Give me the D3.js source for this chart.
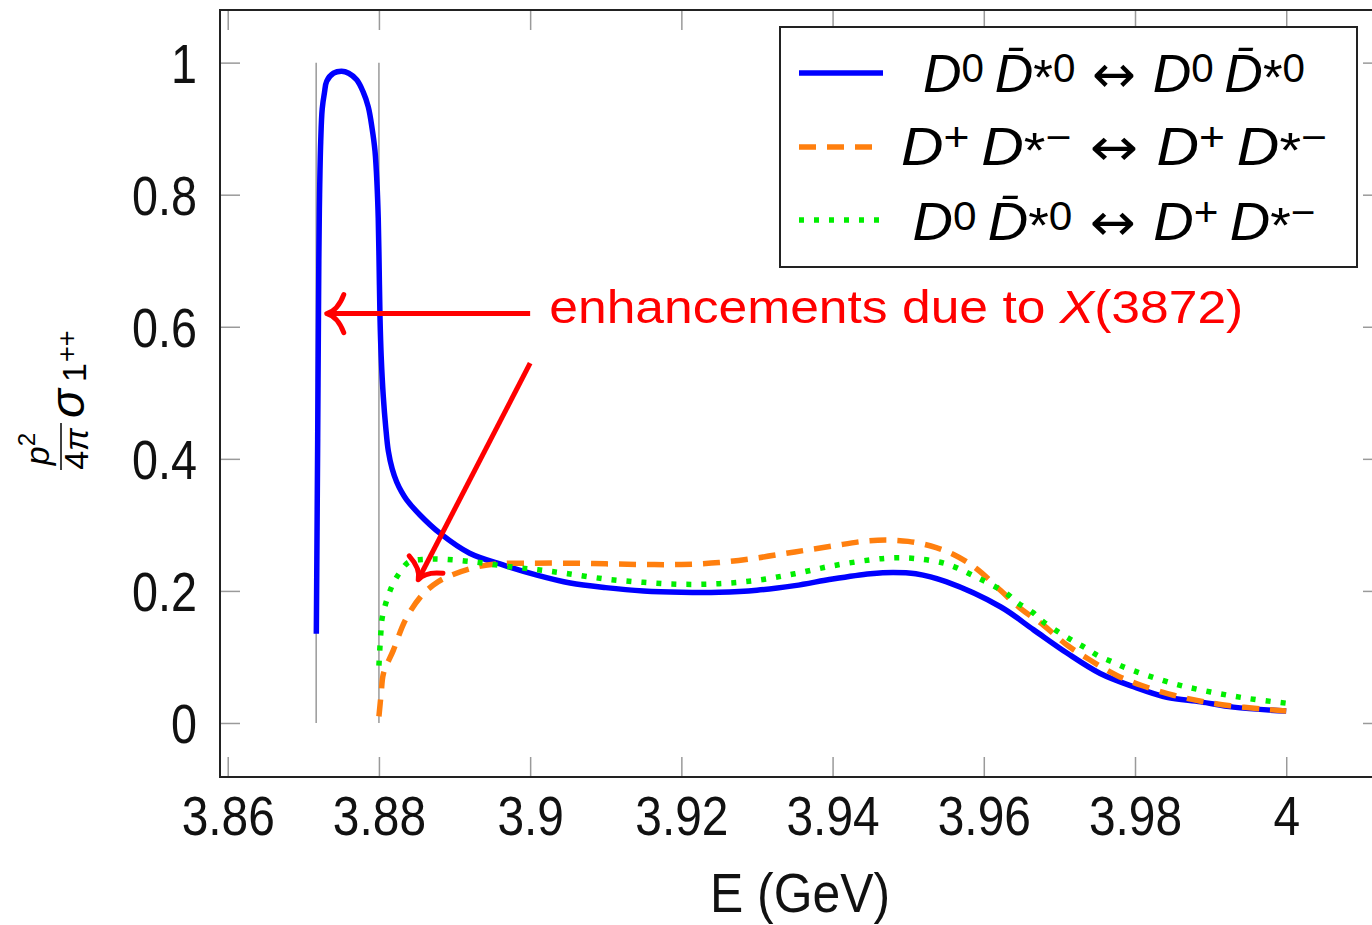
<!DOCTYPE html>
<html><head><meta charset="utf-8">
<script src="https://cdn.jsdelivr.net/npm/d3@7"></script>
<style>
html,body{margin:0;padding:0;background:#fff;}
svg{display:block;}
</style></head>
<body><svg id="chart" width="1372" height="925"></svg>
<script>
// ---------------- data ----------------
const xTicks = [3.86, 3.88, 3.9, 3.92, 3.94, 3.96, 3.98, 4.0];
const xTickLabels = ["3.86", "3.88", "3.9", "3.92", "3.94", "3.96", "3.98", "4"];
const yTicks = [0, 0.2, 0.4, 0.6, 0.8, 1];
const yTickLabels = ["0", "0.2", "0.4", "0.6", "0.8", "1"];
const thresholds = [3.8717, 3.8800];

// D0 D0bar* -> D0 D0bar*
const blueE = [3.87172,3.87190,3.87205,3.87215,3.87230,3.87250,3.87280,3.87310,3.87400,3.87507,3.87600,3.87706,3.87790,3.87859,3.87910,3.87948,3.87975,3.87991,3.88003,3.88014,3.88030,3.88058,3.88090,3.88124,3.88175,3.88235,3.88300,3.88367,3.88543,3.8881,3.8920,3.8965,3.9009,3.9053,3.910,3.915,3.920,3.925,3.930,3.935,3.940,3.945,3.948,3.951,3.955,3.9622,3.9666,3.9710,3.9754,3.9798,3.9842,3.9887,3.9930,4.0000];
const blueV = [0.135,0.430,0.700,0.800,0.880,0.930,0.955,0.972,0.984,0.987,0.984,0.974,0.956,0.933,0.900,0.866,0.815,0.764,0.690,0.615,0.555,0.494,0.448,0.412,0.385,0.365,0.350,0.338,0.315,0.287,0.257,0.239,0.224,0.212,0.205,0.200,0.198,0.198,0.201,0.208,0.218,0.226,0.228,0.226,0.214,0.176,0.141,0.106,0.075,0.055,0.039,0.032,0.024,0.018];

// D+ D*- -> D+ D*-
const orangeE = [3.88000,3.88030,3.88060,3.8819,3.8835,3.8855,3.8872,3.8890,3.8925,3.8956,3.900,3.905,3.910,3.915,3.920,3.925,3.930,3.935,3.940,3.944,3.947,3.950,3.953,3.956,3.959,3.9622,3.9648,3.9679,3.9710,3.9741,3.9776,3.9811,3.9851,3.9887,3.9926,3.9970,4.000];
const orangeV = [0.010,0.045,0.075,0.110,0.156,0.191,0.209,0.221,0.235,0.241,0.242,0.242,0.241,0.240,0.240,0.243,0.250,0.259,0.268,0.275,0.277,0.275,0.268,0.255,0.234,0.201,0.174,0.148,0.118,0.095,0.072,0.056,0.042,0.033,0.026,0.021,0.018];

// D0 D0bar* -> D+ D*-
const greenE = [3.88000,3.88025,3.88046,3.8816,3.8827,3.8840,3.8862,3.8884,3.8925,3.8970,3.9010,3.905,3.910,3.915,3.920,3.925,3.930,3.935,3.940,3.945,3.948,3.951,3.955,3.9588,3.9629,3.9646,3.9664,3.9679,3.9714,3.9734,3.9751,3.9771,3.9789,3.985,3.990,3.995,4.000];
const greenV = [0.087,0.136,0.161,0.204,0.227,0.244,0.248,0.248,0.244,0.237,0.232,0.226,0.218,0.213,0.210,0.211,0.216,0.226,0.238,0.247,0.250,0.249,0.241,0.222,0.197,0.181,0.168,0.153,0.127,0.114,0.102,0.092,0.083,0.060,0.047,0.037,0.030];

const seriesColors = ["#0000ff", "#ff7f0e", "#00ee00"];
// legend labels as [text, kind] tokens: i = italic base, s = digit superscript, o = sign superscript, a = asterisk, r = relation
const legendLabels = [
  [["D","i"],["0","s"],["\u2009D\u0304","i"],["*","a"],["0","s"],[" \u2194 ","r"],["D","i"],["0","s"],["\u2009D\u0304","i"],["*","a"],["0","s"]],
  [["D","i"],["+","o"],["\u2009D","i"],["*","a"],["\u2212","o"],[" \u2194 ","r"],["D","i"],["+","o"],["\u2009D","i"],["*","a"],["\u2212","o"]],
  [["D","i"],["0","s"],["\u2009D\u0304","i"],["*","a"],["0","s"],[" \u2194 ","r"],["D","i"],["+","o"],["\u2009D","i"],["*","a"],["\u2212","o"]]
];
const annotationText = ["enhancements due to ", "X", "(3872)"];
const arrowTail1 = [3.9, 0.62], arrowTip1 = [3.8731, 0.62];
const arrowTail2 = [3.9, 0.545], arrowTip2 = [3.8852, 0.217];

// ---------------- drawing ----------------
const svg = d3.select("#chart");
const FONT = "'Liberation Sans',Arial,sans-serif";
const MFONT = "'Liberation Sans','DejaVu Sans',Arial,sans-serif";
const x = d3.scaleLinear().domain([3.85898, 4.0128]).range([220, 1383]);
const y = d3.scaleLinear().domain([-0.0818, 1.0797]).range([777, 10]);
const [X0, X1] = x.range();
const [Y0, Y1] = y.range();
const tickColor = "#9a9a9a";

function styleAxis(g, labels) {
  g.select(".domain").remove();
  g.selectAll(".tick line").attr("stroke", tickColor).attr("stroke-width", 1.5);
  if (!labels) g.selectAll(".tick text").remove();
  g.selectAll(".tick text").attr("font-size", 55).attr("font-family", FONT).attr("fill", "#111");
}
function narrow(sel, f) {
  sel.each(function() {
    const w = this.getComputedTextLength();
    d3.select(this).attr("textLength", w * f).attr("lengthAdjust", "spacingAndGlyphs");
  });
}
const gB = svg.append("g").attr("transform", `translate(0,${Y0})`)
  .call(d3.axisBottom(x).tickValues(xTicks).tickFormat((d, i) => xTickLabels[i]).tickSizeInner(-20).tickSizeOuter(0));
styleAxis(gB, true);
gB.selectAll(".tick text").attr("y", 58).attr("dy", 0);
narrow(gB.selectAll(".tick text"), 0.87);
const gT = svg.append("g").attr("transform", `translate(0,${Y1})`)
  .call(d3.axisTop(x).tickValues(xTicks).tickSizeInner(-20).tickSizeOuter(0));
styleAxis(gT, false);
const gL = svg.append("g").attr("transform", `translate(${X0},0)`)
  .call(d3.axisLeft(y).tickValues(yTicks).tickFormat((d, i) => yTickLabels[i]).tickSizeInner(-20).tickSizeOuter(0));
styleAxis(gL, true);
gL.selectAll(".tick text").attr("x", -23).attr("dy", 20);
narrow(gL.selectAll(".tick text"), 0.85);
const gR = svg.append("g").attr("transform", `translate(${X1},0)`)
  .call(d3.axisRight(y).tickValues(yTicks).tickSizeInner(-20).tickSizeOuter(0));
styleAxis(gR, false);

// threshold lines
svg.append("g").selectAll("line").data(thresholds).join("line")
  .attr("x1", d => x(d)).attr("x2", d => x(d))
  .attr("y1", y(0)).attr("y2", y(1))
  .attr("stroke", "#999").attr("stroke-width", 1.5);

// curves
const line = d3.line().x(d => x(d[0])).y(d => y(d[1])).curve(d3.curveCatmullRom.alpha(0.5));
const series = [
  {pts: d3.zip(blueE, blueV), dash: null},
  {pts: d3.zip(orangeE, orangeV), dash: "17 11"},
  {pts: d3.zip(greenE, greenV), dash: "5 10"}
];
series.forEach((s, i) => {
  svg.append("path").attr("d", line(s.pts)).attr("fill", "none")
    .attr("stroke", seriesColors[i]).attr("stroke-width", 5.5)
    .attr("stroke-dasharray", s.dash);
});

// frame
svg.append("rect").attr("x", X0).attr("y", Y1).attr("width", X1 - X0).attr("height", Y0 - Y1)
  .attr("fill", "none").attr("stroke", "#222").attr("stroke-width", 2);

// annotation arrows
function arrow(tail, tip) {
  const T = [x(tip[0]), y(tip[1])], S = [x(tail[0]), y(tail[1])];
  const dx = T[0] - S[0], dy = T[1] - S[1], L = Math.hypot(dx, dy);
  const u = [dx / L, dy / L], n = [-u[1], u[0]];
  const P = (a, b) => [T[0] - a * u[0] + b * n[0], T[1] - a * u[1] + b * n[1]];
  svg.append("line").attr("x1", S[0]).attr("y1", S[1]).attr("x2", T[0] - 3 * u[0]).attr("y2", T[1] - 3 * u[1])
    .attr("stroke", "#ff0000").attr("stroke-width", 5);
  const e1 = P(17, 19), c1 = P(11, 3), e2 = P(17, -19), c2 = P(11, -3);
  svg.append("path")
    .attr("d", `M${e1}Q${c1} ${T}Q${c2} ${e2}`)
    .attr("fill", "none").attr("stroke", "#ff0000").attr("stroke-width", 5)
    .attr("stroke-linecap", "round").attr("stroke-linejoin", "round");
}
arrow(arrowTail1, arrowTip1);
arrow(arrowTail2, arrowTip2);

const ann = svg.append("text").attr("x", x(3.90253)).attr("y", y(0.606))
  .attr("font-family", FONT).attr("font-size", 46).attr("fill", "#ff0000")
  .attr("textLength", 694).attr("lengthAdjust", "spacingAndGlyphs");
ann.append("tspan").text(annotationText[0]);
ann.append("tspan").attr("font-style", "italic").attr("font-family", MFONT).text(annotationText[1]);
ann.append("tspan").text(annotationText[2]);

// legend
const lg = svg.append("g");
lg.append("rect").attr("x", 780).attr("y", 27).attr("width", 577).attr("height", 240)
  .attr("fill", "#fff").attr("stroke", "#222").attr("stroke-width", 2);
const rowY = [73, 147, 220], rowBase = [92, 165, 240], rowW = [382, 426, 403];
const dashes = [null, "17 11", "5 10"];
const lift = {i: 0, r: 0, s: -10, o: -14, a: 3};
legendLabels.forEach((toks, i) => {
  lg.append("line").attr("x1", 799).attr("x2", 883).attr("y1", rowY[i]).attr("y2", rowY[i])
    .attr("stroke", seriesColors[i]).attr("stroke-width", 5.5).attr("stroke-dasharray", dashes[i]);
  const t = lg.append("text").attr("x", 1114).attr("y", rowBase[i]).attr("text-anchor", "middle")
    .attr("font-family", MFONT).attr("font-size", 53).attr("fill", "#000")
    .attr("textLength", rowW[i]).attr("lengthAdjust", "spacingAndGlyphs")
    .style("white-space", "pre");
  let cur = 0;
  toks.forEach(([s, k]) => {
    const sp = t.append("tspan").text(s);
    const target = lift[k];
    if (target !== cur) { sp.attr("dy", target - cur); cur = target; }
    if (k === "s" || k === "o") sp.attr("font-size", 40).attr("font-style", "normal");
    else if (k === "a") sp.attr("font-size", 50).attr("font-style", "normal");
    else if (k === "r") sp.attr("font-family", "'DejaVu Sans'").attr("font-size", 52).attr("font-style", "normal");
    else sp.attr("font-style", "italic");
  });
});

// y-axis label: p^2/(4 pi) sigma_{1^{++}}
const yl = svg.append("g").attr("transform", "translate(61,470) rotate(-90)")
  .attr("font-family", MFONT).attr("fill", "#000");
yl.append("line").attr("x1", 0).attr("x2", 47).attr("y1", 0).attr("y2", 0).attr("stroke", "#000").attr("stroke-width", 1.5);
const num = yl.append("text").attr("x", 21).attr("y", -12).attr("text-anchor", "middle").attr("font-size", 34);
num.append("tspan").attr("font-style", "italic").text("p");
num.append("tspan").attr("font-size", 24).attr("dy", -14).text("2");
yl.append("text").attr("x", 21).attr("y", 27).attr("text-anchor", "middle").attr("font-size", 34)
  .html('4<tspan font-style="italic">\u03C0</tspan>');
yl.append("text").attr("x", 52).attr("y", 23).attr("font-size", 48).attr("font-style", "italic").text("\u03C3");
yl.append("text").attr("x", 88).attr("y", 25).attr("font-size", 34).text("1");
yl.append("text").attr("x", 108).attr("y", 15).attr("font-size", 27).text("++");

// x-axis title
svg.append("text").attr("x", 800).attr("y", 912).attr("text-anchor", "middle")
  .attr("font-family", FONT).attr("font-size", 55).attr("fill", "#111")
  .attr("textLength", 180).attr("lengthAdjust", "spacingAndGlyphs").text("E (GeV)");
</script>
</body></html>
